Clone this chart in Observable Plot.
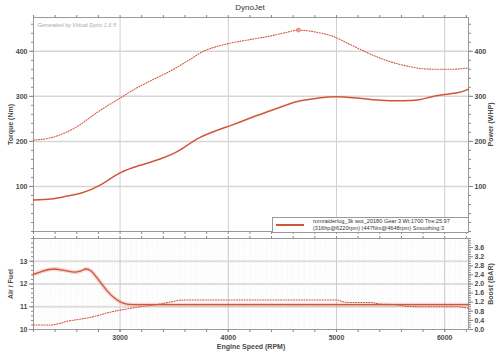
<!DOCTYPE html>
<html><head><meta charset="utf-8">
<script src="https://cdn.jsdelivr.net/npm/d3@7"></script>
<script src="https://cdn.jsdelivr.net/npm/@observablehq/plot@0.6"></script>
<style>
body{margin:0;background:#fff;}
#wrap{position:relative;width:500px;height:355px;font-family:"Liberation Sans",Arial,sans-serif;overflow:hidden;background:#fff}
#wrap svg{position:absolute;left:0}
#title{position:absolute;top:3px;left:0;width:500px;text-align:center;font-size:8px;color:#333;line-height:10px}
#legend{position:absolute;left:272px;top:217px;width:195px;height:14px;border:1px solid #999;background:#fff;z-index:5}
#legend .sw{position:absolute;left:3px;top:6px;width:28px;height:1.5px;background:#d2553a}
#legend .tx{position:absolute;left:40px;top:0px;font-size:5.6px;line-height:7px;color:#333;white-space:nowrap}
</style></head>
<body>
<div id="wrap">
  <div id="title">DynoJet</div>
  <div id="legend"><div class="sw"></div><div class="tx">romraiderlog_3k wot_20180 Gear:3 Wt:1700 Tire:25.97<br>(316hp@6220rpm) (447Nm@4648rpm) Smoothing:3</div></div>
</div>
<script>
// ---- data ----
const powerRpm = [2200,2360,2500,2650,2815,3000,3185,3370,3556,3741,4019,4204,4389,4550,4667,4852,5000,5150,5315,5450,5593,5700,5778,5935,6120,6220];
const powerHp  = [70,72,78,86,103,130,147,161,181,209,235,252,268,282,290,297,299,297,293,291,290,291,293,302,308,316];
const torqueRpm = [2200,2360,2500,2630,2722,2850,3000,3150,3278,3463,3648,3770,3900,4019,4204,4389,4520,4648,4800,4900,5000,5100,5222,5330,5435,5550,5657,5806,5950,6056,6220];
const torqueNm  = [203,208,220,237,253,274,296,318,334,356,382,400,411,418,426,434,441,447,443,438,430,418,404,392,382,373,367,361,360,360,363];
const afrRpm = [2200,2280,2390,2480,2583,2640,2685,2730,2787,2880,2954,3028,3120,3500,4000,5000,6220];
const afrVal = [12.42,12.56,12.66,12.6,12.52,12.58,12.66,12.58,12.27,11.7,11.36,11.16,11.09,11.09,11.09,11.09,11.09];
const boostRpm = [2200,2360,2444,2510,2600,2720,2800,2880,3000,3185,3370,3480,3556,3650,5000,5060,5100,5315,5400,5550,5650,5800,6100,6220];
const boostBar = [0.2,0.2,0.27,0.36,0.43,0.53,0.62,0.73,0.85,1.0,1.12,1.22,1.29,1.3,1.3,1.22,1.19,1.19,1.12,1.09,1.02,1.0,1.0,0.93];
const rpmTicks = [3000,4000,5000,6000];
const topTicks = [100,200,300,400];
const afrTicks = [10,11,12,13];
const boostTicks = [0.0,0.4,0.8,1.2,1.6,2.0,2.4,2.8,3.2,3.6];

const color = "#d2553a";
const xDomain = [2200, 6220];
const power = powerRpm.map((r,i)=>({rpm:r, v:powerHp[i]}));
const torque = torqueRpm.map((r,i)=>({rpm:r, v:torqueNm[i]}));
const afr = afrRpm.map((r,i)=>({rpm:r, v:afrVal[i]}));
const boost = boostRpm.map((r,i)=>({rpm:r, v:boostBar[i]}));
const minorX = d3.range(2200, 6221, 200);
const minorTop = d3.range(0, 476, 20);
const minorAfr = d3.range(10, 14.01, 0.2);
const minorBoost = d3.range(0, 4.01, 0.1).map(b=>b+10);
const gridXfine = d3.range(2200, 6221, 50);
const gridYfine = d3.range(10, 14.01, 0.1);
const none = () => "";
const style = {fontFamily:'"Liberation Sans",Arial,sans-serif', fontSize:"7px", background:"transparent", overflow:"visible", color:"#444"};
const axisTxt = {fontWeight:"bold", fill:"#4a4a4a"};
const tickCol = "#888";
const peak = torque.reduce((a,b)=>b.v>a.v?b:a);

const topPlot = Plot.plot({
  width:500, height:240, marginTop:17, marginBottom:9, marginLeft:33, marginRight:32,
  style,
  x:{domain:xDomain, axis:null},
  y:{domain:[0,475], axis:null},
  marks:[
    Plot.gridX(rpmTicks, {stroke:"#d0d0d0", strokeOpacity:1}),
    Plot.gridY(topTicks, {stroke:"#d6d6d6", strokeOpacity:1, strokeWidth:1.5}),
    Plot.frame({stroke:"#999"}),
    Plot.axisY(topTicks, {anchor:"left", tickSize:4, tickPadding:2, stroke:tickCol, ...axisTxt, label:"Torque (Nm)", labelAnchor:"center", labelOffset:25, labelArrow:"none"}),
    Plot.axisY(minorTop, {anchor:"left", tickSize:2, tickFormat:none, label:null, stroke:tickCol}),
    Plot.axisY(topTicks, {anchor:"right", tickSize:4, tickPadding:2, stroke:tickCol, ...axisTxt, label:"Power (WHP)", labelAnchor:"center", labelOffset:24, labelArrow:"none"}),
    Plot.axisY(minorTop, {anchor:"right", tickSize:2, tickFormat:none, label:null, stroke:tickCol}),
    Plot.axisX(minorX, {anchor:"bottom", tickSize:3, tickFormat:none, label:null, stroke:tickCol}),
    Plot.axisX(minorX, {anchor:"top", tickSize:3, tickFormat:none, label:null, stroke:tickCol}),
    Plot.line(torque, {x:"rpm", y:"v", curve:"monotone-x", stroke:color, strokeWidth:1.1, strokeDasharray:"1,1.6"}),
    Plot.dot([peak], {x:"rpm", y:"v", r:2, fill:"#eaa595", stroke:color, strokeWidth:0.5}),
    Plot.line(power, {x:"rpm", y:"v", curve:"natural", stroke:color, strokeWidth:1.5}),
    Plot.text(["Generated by Virtual Dyno 1.6.5"], {frameAnchor:"top-left", dx:4, dy:6, fontStyle:"italic", fill:"#aaa", fontSize:5.5, textAnchor:"start"})
  ]
});
topPlot.style.top = "0px";

const botPlot = Plot.plot({
  width:500, height:125, marginTop:8, marginBottom:26, marginLeft:33, marginRight:32,
  style,
  x:{domain:xDomain, axis:null},
  y:{domain:[10,14], axis:null},
  marks:[
    Plot.gridX(gridXfine, {stroke:"#d8d8d8", strokeOpacity:0.7, strokeDasharray:"0.6,1.8", strokeWidth:0.5}),
    Plot.gridY(gridYfine, {stroke:"#d8d8d8", strokeOpacity:0.7, strokeDasharray:"0.6,1.8", strokeWidth:0.5}),
    Plot.gridY([11,12,13], {stroke:"#dedede", strokeOpacity:1, strokeWidth:2}),
    Plot.gridX(rpmTicks, {stroke:"#cccccc", strokeOpacity:1}),
    Plot.frame({stroke:"#999"}),
    Plot.axisY(afrTicks, {anchor:"left", tickSize:4, tickPadding:2, stroke:tickCol, ...axisTxt, label:"Air / Fuel", labelAnchor:"center", labelOffset:25, labelArrow:"none"}),
    Plot.axisY(minorAfr, {anchor:"left", tickSize:2, tickFormat:none, label:null, stroke:tickCol}),
    Plot.axisY(boostTicks.map(b=>b+10), {anchor:"right", tickSize:4, tickPadding:2, stroke:tickCol, ...axisTxt, tickFormat:d=>(d-10).toFixed(1), label:"Boost (BAR)", labelAnchor:"center", labelOffset:24, labelArrow:"none"}),
    Plot.axisY(minorBoost, {anchor:"right", tickSize:2, tickFormat:none, label:null, stroke:tickCol}),
    Plot.axisX(rpmTicks, {anchor:"bottom", tickSize:3, tickPadding:3, stroke:tickCol, ...axisTxt, tickFormat:d=>String(d), label:"Engine Speed (RPM)", labelAnchor:"center", labelOffset:19, labelArrow:"none"}),
    Plot.axisX(minorX, {anchor:"bottom", tickSize:3, tickFormat:none, label:null, stroke:tickCol}),
    Plot.axisX(minorX, {anchor:"top", tickSize:3, tickFormat:none, label:null, stroke:tickCol}),
    Plot.line(afr, {x:"rpm", y:"v", curve:"monotone-x", stroke:color, strokeOpacity:0.22, strokeWidth:4}),
    Plot.line(afr, {x:"rpm", y:"v", curve:"monotone-x", stroke:color, strokeWidth:1.3}),
    Plot.line(boost, {x:"rpm", y:d=>d.v+10, curve:"monotone-x", stroke:color, strokeWidth:1.1, strokeDasharray:"1,1.6"})
  ]
});
botPlot.style.top = "230px";

const wrap = document.getElementById("wrap");
wrap.insertBefore(botPlot, wrap.firstChild);
wrap.insertBefore(topPlot, wrap.firstChild);
</script>
</body></html>
